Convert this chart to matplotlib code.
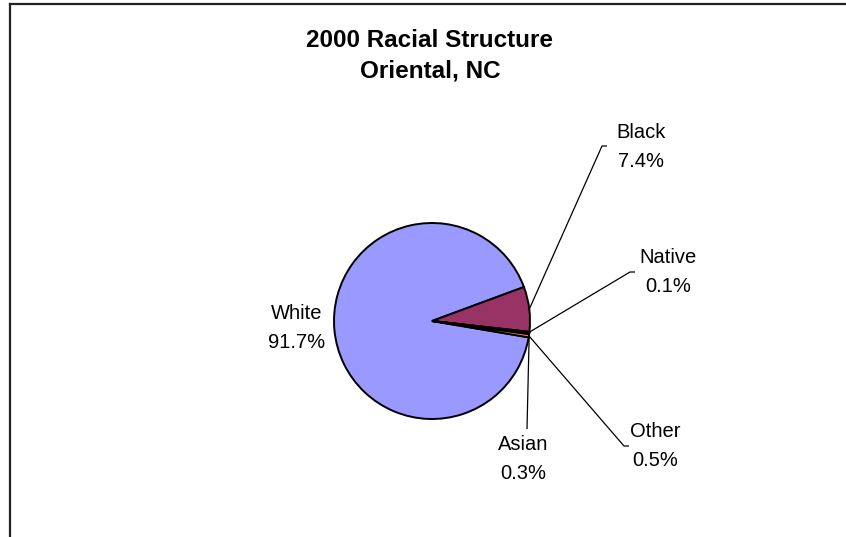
import numpy as np
import matplotlib
matplotlib.use("Agg")
import matplotlib.pyplot as plt
from matplotlib.lines import Line2D

# Racial breakdown, Oriental NC, 2000 census
categories = ["White", "Black", "Native", "Asian", "Other"]
shares = [91.7, 7.4, 0.1, 0.3, 0.5]
slice_colors = ["#9999FF", "#993366", "#FFFFCC", "#CCFFFF", "#FF8080"]
title_lines = ["2000 Racial Structure", "Oriental, NC"]

W, H = 846, 537
fig = plt.figure(figsize=(W / 100, H / 100), dpi=100)
ax = fig.add_axes([0, 0, 1, 1])

font = "Liberation Sans"
cx, cy, r = 432, H - 321, 98

wedges, _ = ax.pie(shares, colors=slice_colors, startangle=-9.6, counterclock=False,
                   center=(cx, cy), radius=r, frame=True,
                   wedgeprops=dict(edgecolor="black", linewidth=1.4))
ax.set_xlim(0, W)
ax.set_ylim(0, H)
ax.set_aspect("equal")
ax.axis("off")

# text centre and leader end for each label, in pixels from the top-left corner
label_layout = {
    "White": dict(text=(297, 328), elbow=None),
    "Black": dict(text=(641, 147), elbow=(602, 146), side="right"),
    "Native": dict(text=(668, 272), elbow=(630, 272), side="right"),
    "Asian": dict(text=(523, 459), elbow=(527, 429), side="top"),
    "Other": dict(text=(655, 446), elbow=(624, 446), side="right"),
}

for wedge, name, val in zip(wedges, categories, shares):
    lay = label_layout[name]
    tx, ty = lay["text"]
    ax.text(tx, H - ty, f"{name}\n{val:.1f}%", ha="center", va="center",
            fontsize=14.5, family=font, linespacing=1.72, color="black")
    if lay["elbow"] is None:
        continue
    mid = np.deg2rad((wedge.theta1 + wedge.theta2) / 2)
    px, py = cx + r * np.cos(mid), cy + r * np.sin(mid)
    ex, ey = lay["elbow"][0], H - lay["elbow"][1]
    xs, ys = [px, ex], [py, ey]
    if lay["side"] == "right":
        xs.append(ex + 5)
        ys.append(ey)
    ax.plot(xs, ys, color="black", linewidth=0.9, solid_capstyle="butt")

fig.text(430 / W, 1 - 56 / H, "\n".join(title_lines), ha="center", va="center",
         fontsize=17.5, fontweight="bold", family=font, linespacing=1.42)

# chart area frame: only the top and left edges fall inside the canvas
fig.add_artist(Line2D([9.5 / W, 1], [1 - 3.5 / H, 1 - 3.5 / H], transform=fig.transFigure,
                      color="#222222", linewidth=1.6))
fig.add_artist(Line2D([9.5 / W, 9.5 / W], [0, 1 - 3.5 / H], transform=fig.transFigure,
                      color="#222222", linewidth=1.6))

fig.savefig("out.png", dpi=100, facecolor="white")
